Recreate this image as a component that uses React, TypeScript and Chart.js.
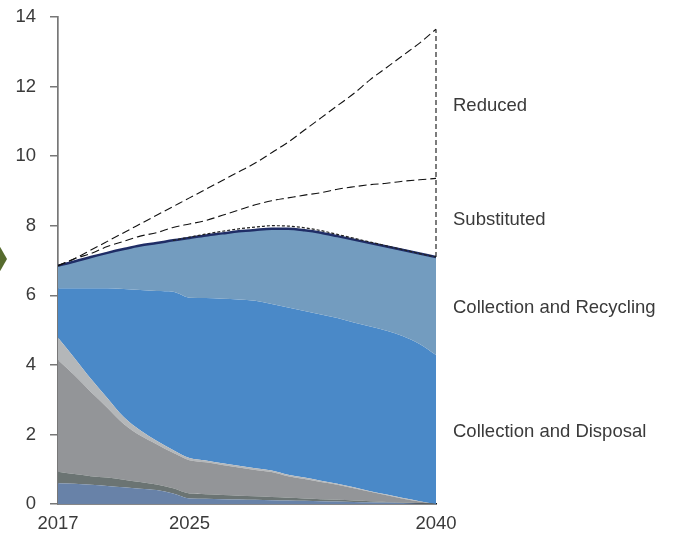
import React, { useEffect, useRef } from 'react';
import { Chart, registerables } from 'chart.js';

Chart.register(...registerables);

// ---- data (cumulative top of each stacked band, million tonnes) ----
const years = [2017, 2018, 2019, 2020, 2021, 2022, 2023, 2024, 2025, 2026, 2027, 2028,
  2029, 2030, 2031, 2032, 2033, 2034, 2035, 2036, 2037, 2038, 2039, 2040];
const xTickYears = [2017, 2025, 2040];
const yMin = 0;
const yMax = 14;
const yStep = 2;

const band1Top = [0.6, 0.58, 0.55, 0.52, 0.48, 0.44, 0.4, 0.3, 0.16, 0.15, 0.14, 0.13,
  0.12, 0.11, 0.1, 0.09, 0.08, 0.07, 0.06, 0.05, 0.04, 0.03, 0.01, 0];
const band2Top = [0.93, 0.86, 0.8, 0.76, 0.7, 0.63, 0.56, 0.45, 0.3, 0.28, 0.26, 0.24,
  0.22, 0.2, 0.18, 0.16, 0.14, 0.12, 0.1, 0.08, 0.06, 0.04, 0.02, 0];
const band3Top = [4.14, 3.7, 3.22, 2.77, 2.3, 1.97, 1.72, 1.47, 1.26, 1.2, 1.12, 1.05,
  0.98, 0.92, 0.8, 0.72, 0.63, 0.55, 0.45, 0.35, 0.25, 0.15, 0.07, 0];
const band4Top = [4.78, 4.2, 3.6, 3.05, 2.5, 2.12, 1.82, 1.55, 1.32, 1.25, 1.17, 1.1,
  1.03, 0.96, 0.84, 0.76, 0.67, 0.58, 0.48, 0.37, 0.27, 0.17, 0.08, 0];
const disposalTop = [6.2, 6.2, 6.2, 6.2, 6.18, 6.15, 6.12, 6.1, 5.93, 5.92, 5.9, 5.88,
  5.84, 5.75, 5.65, 5.55, 5.45, 5.35, 5.22, 5.1, 4.98, 4.82, 4.6, 4.28];
const recyclingTop = [6.85, 6.97, 7.1, 7.22, 7.33, 7.43, 7.5, 7.58, 7.65, 7.72, 7.78, 7.84,
  7.88, 7.91, 7.91, 7.87, 7.8, 7.7, 7.6, 7.5, 7.4, 7.3, 7.2, 7.1];
const outlineDotted = [null, null, null, null, null, null, null, 7.58, 7.67, 7.76, 7.84, 7.91,
  7.96, 8.0, 7.99, 7.94, 7.86, 7.75, 7.64, 7.53, 7.42, 7.31, 7.2, 7.1];
const substitutedLine = [6.85, 7.05, 7.2, 7.4, 7.55, 7.7, 7.8, 7.95, 8.05, 8.15, 8.3, 8.45,
  8.6, 8.72, 8.8, 8.88, 8.95, 9.05, 9.12, 9.18, 9.22, 9.28, 9.32, 9.36];
const reducedLine = [6.85, 7.05, 7.3, 7.55, 7.8, 8.05, 8.3, 8.55, 8.8, 9.05, 9.3, 9.55,
  9.8, 10.1, 10.4, 10.75, 11.1, 11.45, 11.8, 12.2, 12.55, 12.9, 13.25, 13.65];

const bandLabels = ['Reduced', 'Substituted', 'Collection and Recycling', 'Collection and Disposal'];

const FONT = '"Liberation Sans", Arial, sans-serif';
const FONT_SIZE = 18.5;
const TEXT = '#3a3a3a';

const pts = (arr: (number | null)[]) => years.map((x, i) => ({ x, y: arr[i] }));

const annotate = {
  id: 'annotate',
  afterDatasetsDraw(chart: any) {
    const { ctx, chartArea, scales } = chart;
    const x = scales.x;
    const y = scales.y;
    const last = years.length - 1;
    const xp = x.getPixelForValue(years[last]);
    ctx.save();
    ctx.setLineDash([5, 3]);
    ctx.strokeStyle = '#111';
    ctx.lineWidth = 1.1;
    ctx.beginPath();
    ctx.moveTo(xp, y.getPixelForValue(recyclingTop[last]));
    ctx.lineTo(xp, y.getPixelForValue(reducedLine[last]));
    ctx.stroke();
    ctx.setLineDash([]);
    const mids = [
      (substitutedLine[last] + reducedLine[last]) / 2,
      (recyclingTop[last] + substitutedLine[last]) / 2,
      (disposalTop[last] + recyclingTop[last]) / 2,
      disposalTop[last] / 2,
    ];
    ctx.fillStyle = TEXT;
    ctx.font = `${FONT_SIZE}px ${FONT}`;
    ctx.textAlign = 'left';
    ctx.textBaseline = 'middle';
    bandLabels.forEach((t, i) => {
      ctx.fillText(t, chartArea.right + 17, y.getPixelForValue(mids[i]) + 2);
    });
    ctx.restore();
  },
  afterDraw(chart: any) {
    const ctx = chart.ctx;
    ctx.save();
    ctx.fillStyle = '#566b2e';
    ctx.beginPath();
    ctx.moveTo(-10, 229);
    ctx.lineTo(7, 259);
    ctx.lineTo(-10, 289);
    ctx.closePath();
    ctx.fill();
    ctx.restore();
  },
};

export default function App() {
  const ref = useRef<HTMLCanvasElement>(null);
  useEffect(() => {
    if (!ref.current) return;
    const area = (label: string, data: number[], color: string, fill: any) => ({
      label,
      data: pts(data),
      backgroundColor: color,
      borderColor: color,
      borderWidth: 0,
      pointRadius: 0,
      fill,
      cubicInterpolationMode: 'monotone',
      order: 2,
    });
    const dashed = (label: string, data: (number | null)[], dash: number[], color: string, width: number) => ({
      label,
      data: pts(data),
      borderColor: color,
      borderWidth: width,
      borderDash: dash,
      pointRadius: 0,
      fill: false,
      cubicInterpolationMode: 'monotone',
      order: 0,
    });
    const chart = new Chart(ref.current, {
      type: 'line',
      data: {
        datasets: [
          area('band1', band1Top, '#6882a8', 'origin'),
          area('band2', band2Top, '#6b7473', '-1'),
          area('band3', band3Top, '#939598', '-1'),
          area('band4', band4Top, '#b4b7b9', '-1'),
          area('Collection and Disposal', disposalTop, '#4a89c8', '-1'),
          {
            ...area('Collection and Recycling', recyclingTop, '#739cbf', '-1'),
            borderColor: '#1f2d66',
            borderWidth: 2.5,
            order: 1,
          },
          dashed('outline', outlineDotted, [3, 2], '#222', 1.2),
          dashed('Substituted', substitutedLine, [8, 4], '#111', 1.1),
          dashed('Reduced', reducedLine, [8, 4], '#111', 1.1),
        ] as any,
      },
      options: {
        responsive: false,
        animation: false,
        devicePixelRatio: 1,
        layout: { padding: { top: 17, right: 237, bottom: 0, left: 0 } },
        plugins: { legend: { display: false }, tooltip: { enabled: false } },
        scales: {
          x: {
            type: 'linear',
            min: years[0],
            max: years[years.length - 1],
            z: 1,
            afterBuildTicks: (s: any) => {
              s.ticks = xTickYears.map((v) => ({ value: v }));
            },
            afterFit: (s: any) => {
              s.height = 34;
              s.paddingLeft = 0;
              s.paddingRight = 0;
              s.paddingTop = 0;
              s.paddingBottom = 0;
            },
            ticks: {
              autoSkip: false,
              maxRotation: 0,
              padding: 9,
              color: TEXT,
              font: { family: FONT, size: FONT_SIZE },
              callback: (v: any) => String(v),
            },
            grid: { display: false, drawTicks: false },
            border: { display: true, color: '#111', width: 1.6 },
          },
          y: {
            min: yMin,
            max: yMax,
            z: 1,
            afterFit: (s: any) => {
              s.width = 58;
              s.paddingTop = 0;
              s.paddingBottom = 0;
              s.paddingLeft = 0;
              s.paddingRight = 0;
            },
            ticks: {
              stepSize: yStep,
              padding: 14,
              color: TEXT,
              font: { family: FONT, size: FONT_SIZE },
            },
            grid: {
              drawOnChartArea: false,
              drawTicks: true,
              tickLength: 8,
              color: '#777',
              lineWidth: 1.5,
            },
            border: { display: true, color: '#777', width: 1.7 },
          },
        },
      },
      plugins: [annotate],
    });
    return () => chart.destroy();
  }, []);
  return (
    <div style={{ position: 'absolute', left: 0, top: 0, width: 673, height: 538 }}>
      <canvas ref={ref} width={673} height={538} style={{ width: 673, height: 538, display: 'block' }} />
    </div>
  );
}
